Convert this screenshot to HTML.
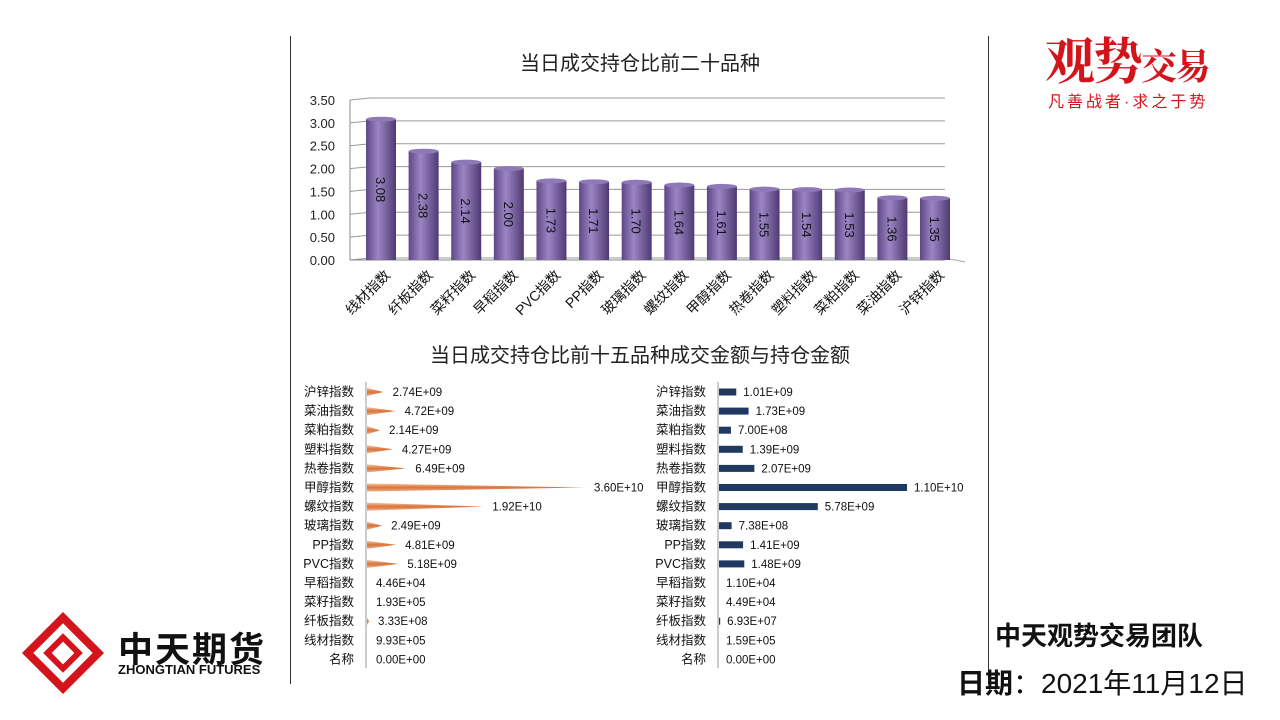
<!DOCTYPE html>
<html><head><meta charset="utf-8"><style>
body{margin:0;width:1280px;height:720px;background:#fff;overflow:hidden;position:relative;font-family:"Liberation Sans","Noto Sans CJK SC",sans-serif}
.abs{position:absolute;white-space:nowrap}
</style></head><body>
<div class="abs" style="left:290px;top:36px;width:1px;height:648px;background:#333"></div>
<div class="abs" style="left:988px;top:36px;width:1px;height:648px;background:#333"></div>
<svg class="abs" style="left:0;top:0" width="1280" height="720" id="svg">
<defs>
<linearGradient id="cyl" x1="0" x2="1"><stop offset="0" stop-color="#5e4785"/><stop offset="0.4" stop-color="#9b85c4"/><stop offset="1" stop-color="#4e3a72"/></linearGradient>
<linearGradient id="cone" x1="0" y1="0" x2="0" y2="1"><stop offset="0" stop-color="#f6c4a0"/><stop offset="0.5" stop-color="#d9733a"/><stop offset="1" stop-color="#f0b088"/></linearGradient>
</defs>
<text x="640" y="70" font-size="20" text-anchor="middle" fill="#222">当日成交持仓比前二十品种</text>
<text x="640" y="362" font-size="20" text-anchor="middle" fill="#222">当日成交持仓比前十五品种成交金额与持仓金额</text>
<g id="top"></g><g id="bl"></g><g id="br"></g>
</svg>
<div class="abs" style="left:1045px;top:22px;color:#d4141b;font-family:'Noto Serif CJK SC',serif;font-size:50px;font-weight:bold;letter-spacing:-2px">观势<span style="font-size:36px">交易</span></div>
<div class="abs" style="left:1048px;top:88px;color:#d4141b;font-size:16px;letter-spacing:3px">凡善战者·求之于势</div>
<svg class="abs" style="left:22px;top:612px" width="82" height="82"><g transform="rotate(45 41 41)"><rect x="16" y="16" width="50" height="50" fill="none" stroke="#d4141b" stroke-width="8"/><rect x="30" y="30" width="22" height="22" fill="none" stroke="#d4141b" stroke-width="6"/></g></svg>
<div class="abs" style="left:118px;top:622px;font-size:35px;font-weight:bold;color:#111;letter-spacing:2px">中天期货</div>
<div class="abs" style="left:118px;top:662px;font-size:13px;font-weight:bold;color:#111">ZHONGTIAN FUTURES</div>
<div class="abs" style="left:995px;top:616px;font-size:26px;font-weight:bold;color:#111">中天观势交易团队</div>
<div class="abs" style="left:957px;top:662px;font-size:28px;color:#111"><b>日期</b>：2021年11月12日</div>
<script>
const topCats=["线材指数","纤板指数","菜籽指数","早稻指数","PVC指数","PP指数","玻璃指数","螺纹指数","甲醇指数","热卷指数","塑料指数","菜粕指数","菜油指数","沪锌指数"];
const topVals=[3.08,2.38,2.14,2.00,1.73,1.71,1.70,1.64,1.61,1.55,1.54,1.53,1.36,1.35];
const topTicks=[0,0.5,1,1.5,2,2.5,3,3.5];
const leftCats=["沪锌指数","菜油指数","菜粕指数","塑料指数","热卷指数","甲醇指数","螺纹指数","玻璃指数","PP指数","PVC指数","早稻指数","菜籽指数","纤板指数","线材指数","名称"];
const leftVals=[2.74e9,4.72e9,2.14e9,4.27e9,6.49e9,3.60e10,1.92e10,2.49e9,4.81e9,5.18e9,4.46e4,1.93e5,3.33e8,9.93e5,0];
const rightVals=[1.01e9,1.73e9,7.00e8,1.39e9,2.07e9,1.10e10,5.78e9,7.38e8,1.41e9,1.48e9,1.10e4,4.49e4,6.93e7,1.59e5,0];
const NS="http://www.w3.org/2000/svg";
function mk(p,t,a,txt){const e=document.createElementNS(NS,t);for(const k in a)e.setAttribute(k,a[k]);if(txt!==undefined)e.textContent=txt;p.appendChild(e);return e;}
function fmt(v){if(v===0)return "0.00E+00";let e=Math.floor(Math.log10(v));let m=v/Math.pow(10,e);if(m>=9.995){m/=10;e++;}return m.toFixed(2)+"E+"+String(e).padStart(2,"0");}
const g=document.getElementById('top');
const y0=260,yS=160/3.5,x0=350,dx=20,dy=-4;
const Y=v=>y0-v*yS;
mk(g,'line',{x1:x0,y1:Y(0),x2:x0,y2:Y(3.5),stroke:'#888'});
for(const t of topTicks){
 const l=mk(g,'polyline',{points:`${x0},${Y(t)} ${x0+dx},${Y(t)+dy+2} ${945},${Y(t)+dy+2}`,fill:'none',stroke:'#999'});
 
 const tx=mk(g,'text',{x:335,y:Y(t)+5,'font-size':13,'text-anchor':'end',fill:'#222'},t.toFixed(2));
 
}
mk(g,'line',{x1:x0,y1:y0,x2:945,y2:y0,stroke:'#888'});
mk(g,'line',{x1:945,y1:y0+dy+2,x2:965,y2:y0+2,stroke:'#aaa'});
const step=(935-381)/(topCats.length-1);
topCats.forEach((c,i)=>{
 const cx=381+i*step,v=topVals[i],w=30;
 const r=mk(g,'rect',{x:cx-w/2,y:Y(v),width:w,height:y0-Y(v),fill:'url(#cyl)'});
 
 mk(g,'ellipse',{cx:cx,cy:Y(v),rx:w/2,ry:2.5,fill:'#8d78b8'});
 const lb=mk(g,'text',{transform:`translate(${cx-5},${(Y(v)+y0)/2}) rotate(90)`,'font-size':13,'text-anchor':'middle',fill:'#111'},v.toFixed(2));
 
 const cl=mk(g,'text',{transform:`translate(${cx+10},${276}) rotate(-45)`,'font-size':14,'text-anchor':'end',fill:'#111'},c);
 
});
function hbar(id,ax,labelRight,vals,maxV,len,cone){
 const gg=document.getElementById(id);
 mk(gg,'line',{x1:ax,y1:382,x2:ax,y2:668,stroke:'#999'});
 leftCats.forEach((c,i)=>{
  const y=392+i*19.1,v=vals[i],L=v/maxV*len;
  const t=mk(gg,'text',{x:labelRight,y:y+4,'font-size':12.5,'text-anchor':'end',fill:'#111'},c);
  
  if(L>0.5){
   let b;
   if(cone)b=mk(gg,'polygon',{points:`${ax+1},${y-4} ${ax+1+L},${y} ${ax+1},${y+4}`,fill:'url(#cone)'});
   else b=mk(gg,'rect',{x:ax+1,y:y-3.5,width:L,height:7,fill:'#1f3960'});
   
  }
  const vt=mk(gg,'text',{x:ax+Math.max(L,0)+(cone?10:8),y:y+4,'font-size':11.5,fill:'#111'},fmt(v));
  
 });
}
hbar('bl',366,354,leftVals,3.6e10,218,true);
hbar('br',718,706,rightVals,1.1e10,188,false);
</script>
</body></html>
